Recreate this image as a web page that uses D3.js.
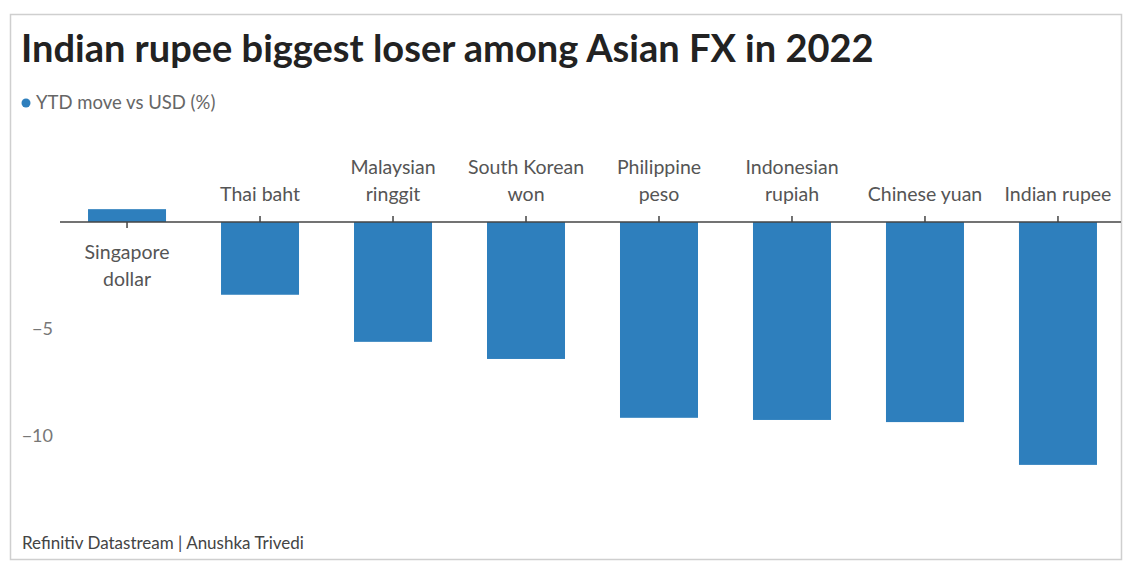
<!DOCTYPE html>
<html>
<head>
<meta charset="utf-8">
<script src="https://cdn.jsdelivr.net/npm/d3@7"></script>
<style>
  body { margin: 0; background: #fff; }
  svg { display: block; font-family: Lato, "Open Sans", sans-serif; }
</style>
</head>
<body>
<svg id="chart" width="1125" height="576"></svg>
<script>
// data
var currencies = ["Singapore dollar", "Thai baht", "Malaysian ringgit", "South Korean won",
                  "Philippine peso", "Indonesian rupiah", "Chinese yuan", "Indian rupee"];
var labelLines = [["Singapore", "dollar"], ["Thai baht"], ["Malaysian", "ringgit"], ["South Korean", "won"],
                  ["Philippine", "peso"], ["Indonesian", "rupiah"], ["Chinese yuan"], ["Indian rupee"]];
var ytdMove = [0.6, -3.4, -5.6, -6.4, -9.15, -9.25, -9.35, -11.35];
var yTicks = [-5, -10];

var svg = d3.select("#chart");

// frame
svg.append("rect")
    .attr("x", 10.5).attr("y", 14.5)
    .attr("width", 1111).attr("height", 545)
    .attr("fill", "none")
    .attr("stroke", "#cfcfcf")
    .attr("stroke-width", 1.5);

svg.append("text")
    .attr("x", 21).attr("y", 62)
    .attr("font-size", 38).attr("font-weight", 700)
    .attr("fill", "#222")
    .text("Indian rupee biggest loser among Asian FX in 2022");

svg.append("circle")
    .attr("cx", 26).attr("cy", 103).attr("r", 4.5)
    .attr("fill", "#2e7fbd");
svg.append("text")
    .attr("x", 36).attr("y", 109)
    .attr("font-size", 18.5).attr("fill", "#666")
    .text("YTD move vs USD (%)");

var x = d3.scaleBand()
    .domain(currencies)
    .range([60.5, 1124.5])
    .paddingInner(0.4135)
    .paddingOuter(0.207);

var y = d3.scaleLinear()
    .domain([0, -10])
    .range([222, 436]);

// y labels, no line
var yAxis = svg.append("g")
    .attr("transform", "translate(53,0)")
    .call(d3.axisLeft(y).tickValues(yTicks).tickSize(0).tickPadding(0).tickFormat(d3.format("")));
yAxis.select(".domain").remove();
yAxis.selectAll("text")
    .attr("font-family", "Lato, sans-serif")
    .attr("font-size", 18)
    .attr("fill", "#777");

svg.append("g").selectAll("rect")
    .data(ytdMove)
    .join("rect")
    .attr("x", function(d, i){ return x(currencies[i]); })
    .attr("width", x.bandwidth())
    .attr("y", function(d){ return y(Math.max(0, d)); })
    .attr("height", function(d){ return Math.abs(y(d) - y(0)); })
    .attr("fill", "#2e7fbd");

// zero line
svg.append("line")
    .attr("x1", 60).attr("x2", 1121)
    .attr("y1", y(0)).attr("y2", y(0))
    .attr("stroke", "#444").attr("stroke-width", 1.5);

// ticks + labels
var cats = svg.append("g").selectAll("g")
    .data(currencies)
    .join("g")
    .attr("transform", function(d){ return "translate(" + (x(d) + x.bandwidth() / 2) + ",0)"; });

cats.append("line")
    .attr("y1", y(0))
    .attr("y2", function(d, i){ return ytdMove[i] > 0 ? y(0) + 6 : y(0) - 6; })
    .attr("stroke", "#444").attr("stroke-width", 1.5);

cats.each(function(d, i){
    var lines = labelLines[i];
    var g = d3.select(this);
    var above = ytdMove[i] < 0;
    lines.forEach(function(t, j){
        var yy = above ? y(0) - 21 - (lines.length - 1 - j) * 27 : y(0) + 37 + j * 27;
        g.append("text")
            .attr("y", yy)
            .attr("text-anchor", "middle")
            .attr("font-size", 19.5)
            .attr("fill", "#555")
            .text(t);
    });
});

svg.append("text")
    .attr("x", 22).attr("y", 549)
    .attr("font-size", 17).attr("fill", "#444")
    .text("Refinitiv Datastream | Anushka Trivedi");
</script>
</body>
</html>
